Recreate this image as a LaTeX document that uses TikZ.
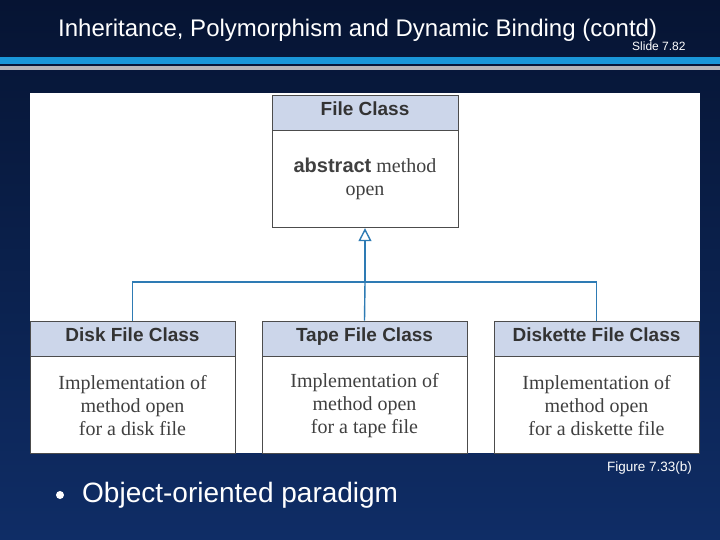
\documentclass[tikz,border=0pt]{standalone}
\usepackage{fontspec}
\setmainfont{Liberation Serif}
\setsansfont{Liberation Sans}
\usetikzlibrary{positioning}
\usetikzlibrary{arrows.meta}
\definecolor{navytop}{HTML}{061433}
\definecolor{navybot}{HTML}{0F2D66}
\definecolor{barblue}{HTML}{1A96D8}
\definecolor{bargray}{HTML}{B4B4B8}
\definecolor{headfill}{HTML}{CCD6EA}
\definecolor{linkblue}{HTML}{2E7BB4}
\tikzset{
  header/.style={rectangle,draw=black!70,fill=headfill,line width=0.8pt,
                 minimum width=#1,minimum height=35pt,inner sep=0pt,
                 text height=1.4ex,text depth=0.3ex,
                 font=\sffamily\bfseries\fontsize{19}{22}\selectfont,text=black!80},
  body/.style={rectangle,draw=black!70,fill=white,line width=0.8pt,
               minimum width=#1,inner sep=0pt,align=center,anchor=north,
               font=\fontsize{20}{23}\selectfont,text=black!75},
  link/.style={draw=linkblue,line width=1.4pt},
  inherit/.style={link,-{Triangle[open,fill=white,length=13pt,width=13pt]}},
}
\begin{document}
\begin{tikzpicture}[x=1pt,y=-1pt]
  \useasboundingbox (0,0) rectangle (720,540);
  \shade[top color=navytop,bottom color=navybot] (0,0) rectangle (720,540);
  \fill[barblue] (0,57) rectangle (720,64);
  \fill[bargray] (0,66) rectangle (720,70);
  \node[text=white,font=\sffamily\fontsize{24}{28}\selectfont,anchor=base west,inner sep=0pt]
      (title) at (58,37) {Inheritance, Polymorphism and Dynamic Binding (contd)};
  \node[text=white,font=\sffamily\fontsize{12}{14}\selectfont,anchor=base west,inner sep=0pt]
      (slide) at (632,51) {Slide 7.82};
  \fill[white] (30,93) rectangle (700,453);

  % base class
  \node[header=186pt] (fileHead) at (365,112.5) {File Class};
  \node[body=186pt,minimum height=97pt] (fileBody) at (fileHead.south)
      {{\sffamily\bfseries abstract} method\\open};

  % derived classes
  \foreach \n/\x/\t/\d in {disk/132.5/Disk File Class/a disk file,
                           tape/364.5/Tape File Class/a tape file,
                           diskette/596.5/Diskette File Class/a diskette file} {
    \node[header=205pt] (\n Head) at (\x,338.5) {\t};
    \node[body=205pt,minimum height=97pt] (\n Body) at (\n Head.south)
        {Implementation of\\method open\\for \d};
  }

  \coordinate (fork) at (365,282);
  \draw[link] (diskHead.north) |- (fork) -| (disketteHead.north);
  \draw[link] (tapeHead.north) -- (fork);
  \draw[inherit] (fork) -- (fileBody.south);

  \node[text=white,font=\sffamily\fontsize{13.5}{16}\selectfont,anchor=base east,inner sep=0pt]
      (figure) at (692,471) {Figure 7.33(b)};
  \fill[white] (60,495) circle (4pt);
  \node[text=white,font=\sffamily\fontsize{28}{32}\selectfont,anchor=west,inner sep=0pt]
      (bullet) at (82,495) {Object-oriented paradigm};
\end{tikzpicture}
\end{document}
